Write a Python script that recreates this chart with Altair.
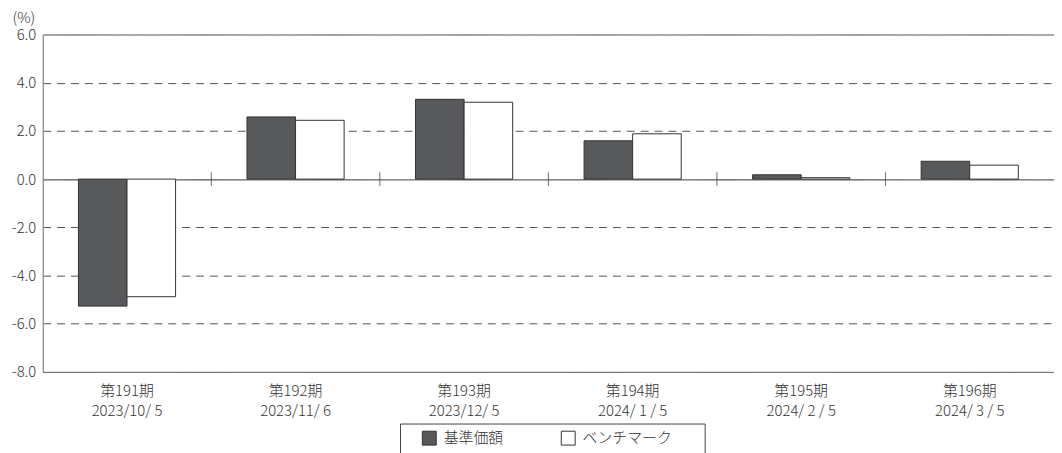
import altair as alt
import pandas as pd

periods = ["第191期", "第192期", "第193期", "第194期", "第195期", "第196期"]
dates = ["2023/10/ 5", "2023/11/ 6", "2023/12/ 5", "2024/ 1 / 5", "2024/ 2 / 5", "2024/ 3 / 5"]
fund = [-5.27, 2.58, 3.31, 1.59, 0.18, 0.74]
bench = [-4.88, 2.44, 3.19, 1.88, 0.06, 0.58]
series_names = ["基準価額", "ベンチマーク"]
y_ticks = [-8, -6, -4, -2, 0, 2, 4, 6]

cats = [p + "|" + d for p, d in zip(periods, dates)]

rows = []
for c, f, b in zip(cats, fund, bench):
    rows.append({"cat": c, "series": series_names[0], "value": f})
    rows.append({"cat": c, "series": series_names[1], "value": b})
df = pd.DataFrame(rows)
tick_df = pd.DataFrame({"cat": cats[1:], "zero": [0] * (len(cats) - 1)})

FONT = "Noto Sans CJK JP"
TXT = "#333333"

xscale = alt.Scale(domain=cats, paddingInner=0, paddingOuter=0)
yscale = alt.Scale(domain=[-8, 6], nice=False, zero=False)

bars = alt.Chart(df).mark_bar(stroke="#333333", strokeWidth=1).encode(
    x=alt.X("cat:N", scale=xscale, sort=cats,
            axis=alt.Axis(title=None, labelAngle=0, labelExpr="split(datum.label, '|')",
                          ticks=False, domainColor="#777777", labelFontSize=15,
                          labelLineHeight=20, labelPadding=12, labelColor=TXT,
                          labelFont=FONT, labelFontWeight=300, grid=False)),
    xOffset=alt.XOffset("series:N", sort=series_names,
                        scale=alt.Scale(domain=series_names, paddingInner=0, paddingOuter=0.735)),
    y=alt.Y("value:Q", scale=yscale,
            axis=alt.Axis(title="(%)", titleAngle=0, titleX=-31, titleY=-17, titleAlign="left",
                          titleBaseline="middle", titleFontSize=15, titleFontWeight=300,
                          titleFont=FONT, titleColor=TXT,
                          values=y_ticks,
                          labelExpr="(datum.value < 0 ? '-' : '') + format(abs(datum.value), '.1f')",
                          ticks=False, labelPadding=7,
                          labelFontSize=15, labelFont=FONT, labelFontWeight=300, labelColor=TXT,
                          domainColor="#777777",
                          grid=True,
                          gridColor=alt.condition("datum.value === 0", alt.value("#222222"), alt.value("#555555")),
                          gridDash=alt.condition("datum.value === 0 || datum.value === 6 || datum.value === -8",
                                                 alt.value([1, 0]), alt.value([8, 6])))),
    color=alt.Color("series:N", sort=series_names,
                    scale=alt.Scale(domain=series_names, range=["#58595b", "#ffffff"]),
                    legend=alt.Legend(title=" ", titleOrient="right", titlePadding=26,
                                      orient="none", legendX=360, legendY=392,
                                      direction="horizontal", symbolType="square", symbolSize=196,
                                      symbolStrokeColor="#333333", symbolStrokeWidth=1,
                                      labelFontSize=15, labelFont=FONT, labelFontWeight=300,
                                      labelColor=TXT,
                                      strokeColor="#444444", padding=7, columnPadding=42,
                                      symbolOffset=15, labelOffset=7)),
)

ticks = alt.Chart(tick_df).mark_tick(orient="vertical", size=14, thickness=1, color="#333333").encode(
    x=alt.X("cat:N", scale=xscale, sort=cats, bandPosition=0),
    y=alt.Y("zero:Q", scale=yscale),
)

chart = alt.layer(bars, ticks).properties(
    width=1019, height=340,
    autosize=alt.AutoSizeParams(type="none"),
    padding={"left": 35, "top": 25, "right": 0, "bottom": 80},
).configure_view(stroke=None).configure(font=FONT)

chart.save("out.html", embed_options={"renderer": "svg", "actions": False})
